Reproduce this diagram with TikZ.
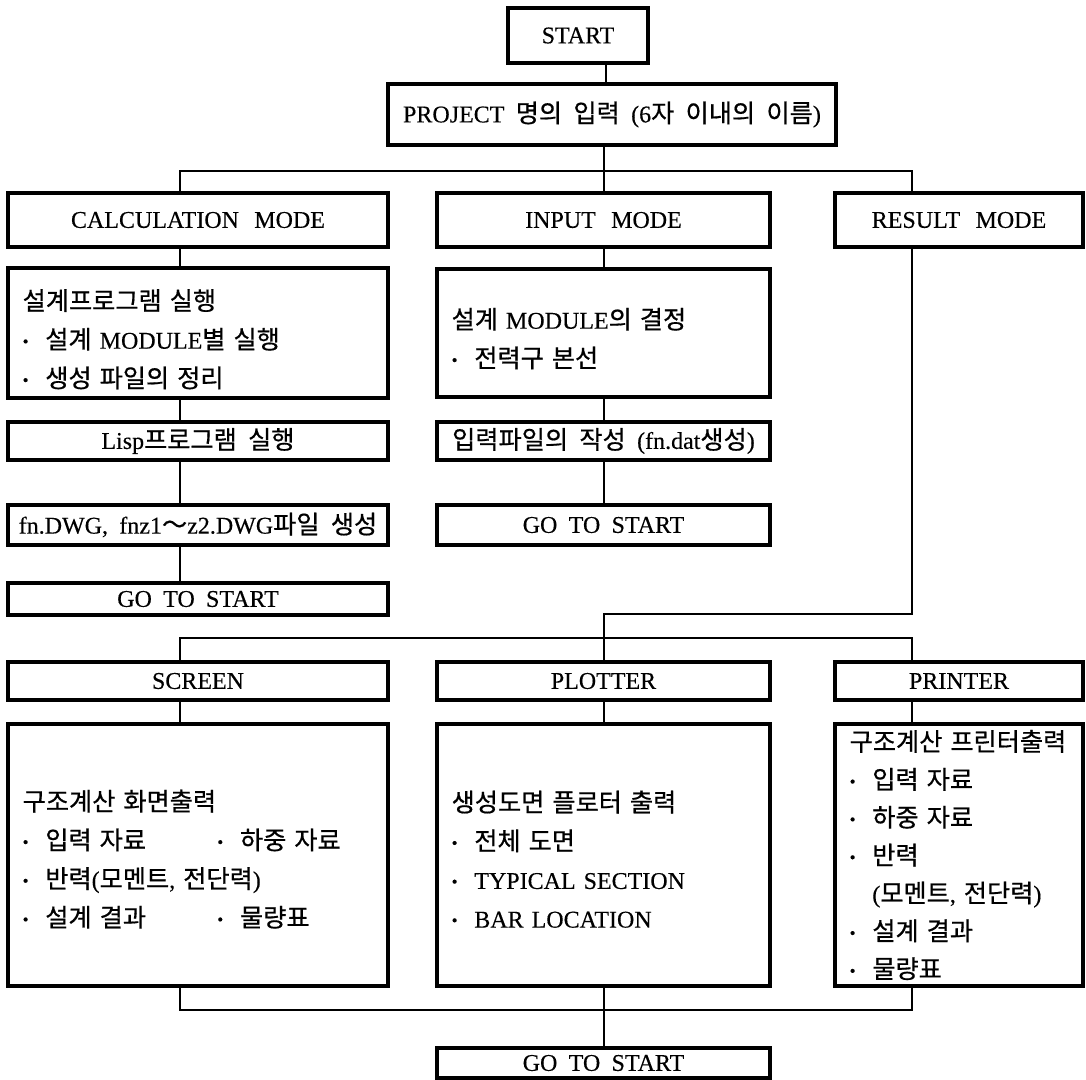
\documentclass[tikz,border=0pt]{standalone}
\usepackage{fontspec}
\setmainfont{Liberation Serif}[FakeBold=0.3]
\newfontfamily\kr{Noto Sans CJK KR}[Scale=1.05, FakeBold=0.6]
\newcommand\K[1]{{\kr #1}}
\newcommand\bul{\makebox[17pt][l]{\raisebox{0.15ex}{\scalebox{0.7}{\textbullet}}}}
\newcommand\fs{\fontsize{18pt}{29pt}\selectfont\spaceskip=8.5pt plus 1pt}
\newcommand\fsp{\fontsize{18pt}{28.4pt}\selectfont\spaceskip=8.5pt plus 1pt}
\newcommand\dn[1]{\rule{0pt}{#1}}
\begin{document}
\begin{tikzpicture}[x=0.75pt,y=-0.75pt,
  box/.style={draw, line width=2.4pt, inner sep=0pt, font=\fs, align=center},
  bx/.style 2 args={minimum width=#1*0.75pt, minimum height=#2*0.75pt},
  tbox/.style={box, align=left, inner xsep=11pt, text width=#1*0.75pt-22pt},
  conn/.style={line width=0.8pt}]
\useasboundingbox[fill=white] (0,0) rectangle (1086,1079);
% x positions of connectors
\coordinate (xs) at (606,0);
\coordinate (xa) at (180,0);
\coordinate (xb) at (604,0);
\coordinate (xc) at (912,0);
\coordinate (ht) at (0,171);
\coordinate (hr) at (0,614);
\coordinate (hm) at (0,638);
\coordinate (hb) at (0,1010);
% top
\node[box, bx={140}{55}] (st) at (578,35.5) {START};
\node[box, bx={448}{61}] (pj) at (612,114.5) {PROJECT \K{명의 입력} (6\K{자 이내의 이름})};
% modes
\node[box, bx={380}{54}] (cm) at (198,220) {CALCULATION\hspace{3pt} MODE};
\node[box, bx={333}{54}] (im) at (603.5,220) {INPUT\hspace{3pt} MODE};
\node[box, bx={248}{54}] (rm) at (959,220) {RESULT\hspace{3pt} MODE};
% calculation column
\node[tbox=380, bx={380}{130}] (ct) at (198,333) {\dn{25pt}\K{설계프로그램 실행}\\ \bul\K{설계} MODULE\K{별 실행}\\ \bul\K{생성 파일의 정리}};
\node[box, bx={380}{38}] (lp) at (198,441) {Lisp\K{프로그램 실행}};
\node[box, bx={380}{40}] (dw) at (198,525) {fn.DWG, fnz1\K{～}z2.DWG\K{파일 생성}};
\node[box, bx={380}{32}] (g1) at (198,599) {GO TO START};
% input column
\node[tbox=333, bx={333}{128}] (it) at (603.5,333) {\dn{24pt}\K{설계} MODULE\K{의 결정}\\ \bul\K{전력구 본선}};
\node[box, bx={333}{38}] (ip) at (603.5,441) {\K{입력파일의 작성} (fn.dat\K{생성})};
\node[box, bx={333}{40}] (g2) at (603.5,525) {GO TO START};
% outputs
\node[box, bx={380}{38}] (sc) at (198,681) {SCREEN};
\node[box, bx={333}{38}] (pl) at (603.5,681) {PLOTTER};
\node[box, bx={248}{38}] (pr) at (959,681) {PRINTER};
\node[tbox=380, bx={380}{262}] (sct) at (198,855) {\dn{22pt}\K{구조계산 화면출력}\\
  \makebox[146pt][l]{\bul\K{입력 자료}}\bul\K{하중 자료}\\
  \bul\K{반력}(\K{모멘트}, \K{전단력})\\
  \makebox[146pt][l]{\bul\K{설계 결과}}\bul\K{물량표}};
\node[tbox=333, bx={333}{262}] (plt) at (603.5,855) {\dn{22pt}\K{생성도면 플로터 출력}\\
  \bul\K{전체 도면}\\ \bul TYPICAL SECTION\\ \bul BAR LOCATION};
\node[tbox=248, bx={248}{262}, font=\fsp] (prt) at (959,855) {\K{구조계산 프린터출력}\\
  \bul\K{입력 자료}\\ \bul\K{하중 자료}\\ \bul\K{반력}\\ \hspace*{17pt}(\K{모멘트}, \K{전단력})\\
  \bul\K{설계 결과}\\ \bul\K{물량표}};
\node[box, bx={333}{30}] (g3) at (603.5,1063) {GO TO START};
% connectors
\draw[conn] (st.south -| xs) -- (pj.north -| xs);
\draw[conn] (pj.south -| xb) -- (im.north -| xb);
\draw[conn] (cm.north -| xa) -- (xa |- ht) -- (xc |- ht) -- (rm.north -| xc);
\draw[conn] (cm.south -| xa) -- (ct.north -| xa);
\draw[conn] (ct.south -| xa) -- (lp.north -| xa);
\draw[conn] (lp.south -| xa) -- (dw.north -| xa);
\draw[conn] (dw.south -| xa) -- (g1.north -| xa);
\draw[conn] (im.south -| xb) -- (it.north -| xb);
\draw[conn] (it.south -| xb) -- (ip.north -| xb);
\draw[conn] (ip.south -| xb) -- (g2.north -| xb);
\draw[conn] (rm.south -| xc) -- (xc |- hr) -- (xb |- hr) -- (pl.north -| xb);
\draw[conn] (sc.north -| xa) -- (xa |- hm) -- (xc |- hm) -- (pr.north -| xc);
\draw[conn] (sc.south -| xa) -- (sct.north -| xa);
\draw[conn] (pl.south -| xb) -- (plt.north -| xb);
\draw[conn] (pr.south -| xc) -- (prt.north -| xc);
\draw[conn] (sct.south -| xa) -- (xa |- hb) -- (xc |- hb) -- (prt.south -| xc);
\draw[conn] (plt.south -| xb) -- (g3.north -| xb);
\end{tikzpicture}
\end{document}
